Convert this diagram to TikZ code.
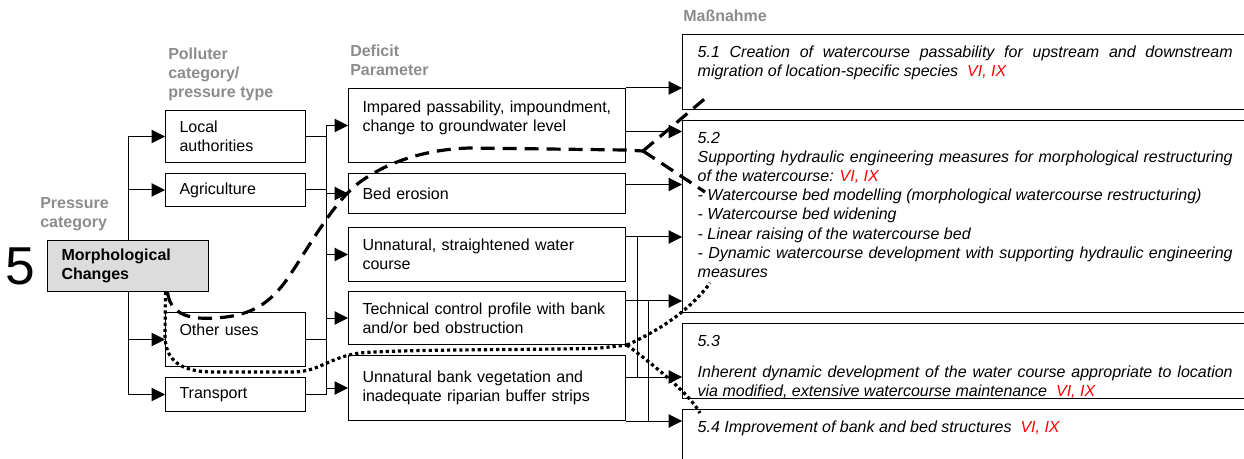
\documentclass[tikz,border=0pt]{standalone}
\usepackage{fontspec}
\setmainfont{Liberation Sans}
\usetikzlibrary{positioning,arrows.meta}
\definecolor{headgray}{RGB}{140,140,140}
\definecolor{morphgray}{RGB}{220,220,220}
\newcommand{\vix}{\textcolor{red}{VI, IX}}
\hyphenpenalty=10000

\begin{document}
\begin{tikzpicture}[
x=0.75pt,y=-0.75pt,
font=\fontsize{12}{14.4}\selectfont,
box/.style={
  draw,
  line width=0.75pt,
  anchor=north west,
  align=left,
  inner xsep=10.5pt,
  inner ysep=0pt
},
polbox/.style={
  box,
  text width=84pt
},
defbox/.style={
  box,
  text width=186.75pt
},
measure/.style={
  draw,
  line width=1pt,
  anchor=north west,
  align=justify,
  text width=401.25pt,
  inner xsep=11.25pt,
  inner ysep=0pt,
  text height=16.9pt,
  font=\fontsize{12}{14.4}\selectfont\itshape
},
head/.style={
  align=left,
  inner sep=0pt,
  text=headgray,
  font=\fontsize{12}{14.4}\selectfont\bfseries
},
link/.style={
  line width=0.75pt,
  -{Triangle[length=10pt,width=10pt]}
},
wire/.style={
  line width=0.75pt
},
dashlink/.style={
  line width=2.4pt,
  dash pattern=on 10.5pt off 6pt
},
dotlink/.style={
  line width=2.4pt,
  dash pattern=on 2.4pt off 2.2pt
}
]
\useasboundingbox (0,0) rectangle (1244,459);
\clip (0,0) rectangle (1244,459);

\node[box,fill=morphgray,text width=99.75pt,minimum height=38.25pt,font=\fontsize{12}{14.4}\selectfont\bfseries] at (47,240)
  (morph) {Morphological\\Changes};
\node[left=9pt of morph,inner sep=0pt,font=\fontsize{40}{48}\selectfont]
  (five) {5};

\node[polbox,minimum height=39pt] at (165,110)
  (local) {Local\\authorities};
\node[polbox,minimum height=24.75pt] at (165,173)
  (agri) {Agriculture};
\node[polbox,minimum height=40.5pt] at (165,312)
  (other) {Other uses\\\mbox{}};
\node[polbox,minimum height=25.5pt] at (165,377)
  (transp) {Transport};

\node[defbox,minimum height=55.5pt] at (348,88)
  (imp) {Impared passability, impoundment,\\change to groundwater level\\\mbox{}};
\node[defbox,minimum height=30pt] at (348,173)
  (bed) {Bed erosion};
\node[defbox,minimum height=40.5pt] at (348,227)
  (straight) {Unnatural, straightened water\\course};
\node[defbox,minimum height=39.75pt] at (348,291)
  (tech) {Technical control profile with bank\\and/or bed obstruction};
\node[defbox,minimum height=48.75pt] at (348,355)
  (bank) {Unnatural bank vegetation and\\inadequate riparian buffer strips};

\node[measure,text depth=39.35pt] at (682,34)
  (m51) {5.1 Creation of watercourse passability for upstream and downstream migration of location-specific species~~\vix};
\node[measure,text depth=127.1pt] at (682,120)
  (m52) {5.2\\Supporting hydraulic engineering measures for morphological restructuring of the watercourse: \vix\\- Watercourse bed modelling (morphological watercourse restructuring)\\- Watercourse bed widening\\- Linear raising of the watercourse bed\\- Dynamic watercourse development with supporting hydraulic engineering measures};
\node[measure,text depth=39.35pt] at (682,323)
  (m53) {5.3\\[9pt]Inherent dynamic development of the water course appropriate to location via modified, extensive watercourse maintenance~~\vix};
\node[measure,text depth=45pt] at (682,409)
  (m54) {5.4 Improvement of bank and bed structures~~\vix};

\node[head,above right=4.7pt and -5.25pt of morph.north west]
  (hpress) {Pressure\\category\strut};
\node[head,above right=4.7pt and 2.25pt of local.north west]
  (hpol) {Polluter\\category/\\pressure type\strut};
\node[head,above right=4.7pt and 1.5pt of imp.north west]
  (hdef) {Deficit\\Parameter\strut};
\node[head,above right=4.7pt and 0.75pt of m51.north west]
  (hmeas) {Maßnahme\strut};

\draw[link] (morph.north) |- (local.west);
\draw[link] (morph.north) |- (agri.west);
\draw[link] (morph.south) |- (other.west);
\draw[link] (morph.south) |- (transp.west);

\coordinate (bus) at (326,0);
\foreach \p in {local,agri,other,transp}
  \draw[wire] (\p.east) -- (\p.east -| bus);
\draw[wire] (bus |- imp.west) -- (bus |- transp.east);
\foreach \d in {imp,bed,straight,tech,bank}
  \draw[link] (bus |- \d.west) -- (\d.west);

\coordinate (r1) at ([yshift=-4.5pt]imp.east);
\coordinate (r2) at ([yshift=6.75pt]bed.east);
\coordinate (r3) at ([yshift=-7.5pt]straight.north east);
\coordinate (r4) at ([yshift=-7.5pt]tech.north east);
\coordinate (r5) at ([yshift=-16.5pt]bank.north east);
\draw[link] (imp.north east) -- (imp.north east -| m51.west);
\draw[link] (r1) -- (r1 -| m52.west);
\draw[link] (r2) -- (r2 -| m52.west);
\draw[link] (r3) -- (r3 -| m52.west);
\draw[link] (r4) -- (r4 -| m52.west);
\draw[link] (r5) -- (r5 -| m53.west);
\draw[link] (bank.south east) -- (bank.south east -| m54.west);
\draw[wire] ([xshift=8.25pt]r3) -- ([xshift=8.25pt]r5);
\draw[wire] ([xshift=16.5pt]r4) -- ([xshift=16.5pt]bank.south east);

\coordinate (dj) at (643,151);
\coordinate (d51) at (708,96);
\coordinate (d52) at (705,192);
\draw[dashlink] ([xshift=29.625pt]morph.south)
  .. controls (170,312) and (185,320) .. (215,318)
  .. controls (250,316) and (270,305) .. (290,275)
  .. controls (310,245) and (335,200) .. (360,182)
  .. controls (390,160) and (430,149) .. (470,148)
  -- (625,150) -- (dj);
\draw[dashlink] (dj) -- (d51);
\draw[dashlink] (dj) -- (d52);

\coordinate (tj) at (627,345);
\coordinate (t52) at (710,283);
\coordinate (t54) at (700,413);
\draw[dotlink] ([xshift=28.125pt]morph.south) -- (165,335)
  .. controls (165,360) and (180,371) .. (210,372)
  -- (295,372)
  .. controls (320,371) and (330,357) .. (360,353)
  .. controls (400,349) and (560,350) .. (600,348)
  -- (tj);
\draw[dotlink] (tj) .. controls (660,330) and (690,310) .. (t52);
\draw[dotlink] (tj) .. controls (660,370) and (690,395) .. (t54);
\end{tikzpicture}
\end{document}
